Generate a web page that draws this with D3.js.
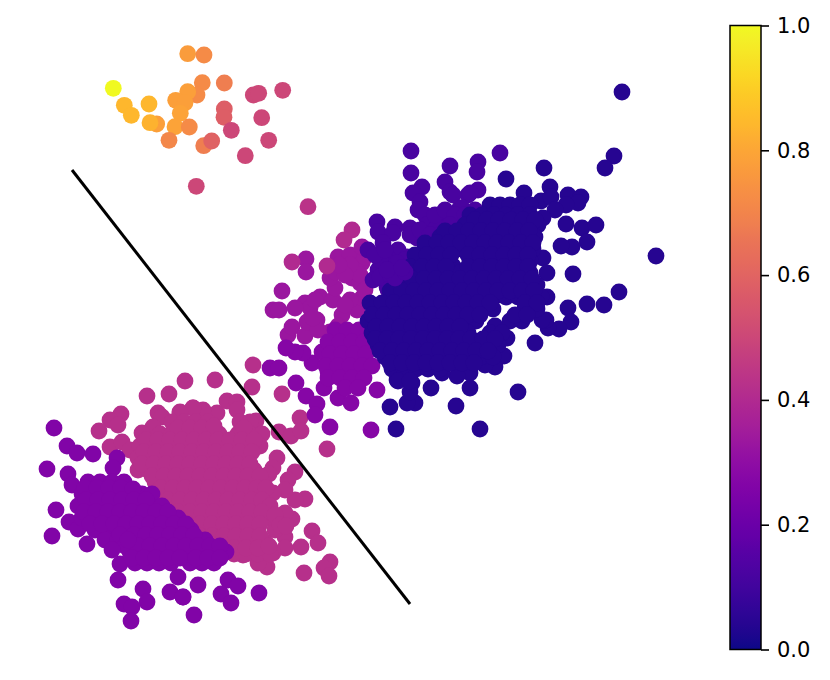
<!DOCTYPE html>
<html>
<head>
<meta charset="utf-8">
<title>projection scatter</title>
<script src="https://d3js.org/d3.v7.min.js"></script>
<style>
body { margin: 0; background: #fff; }
text { font-family: "DejaVu Sans", sans-serif; }
</style>
</head>
<body>
<div id="chart"></div>
<script>
// values, [x, y] in projection units
var pinkPoints = [[25.3,36.5],[25.2,38.7],[28.2,39.4],[18.5,38.1],[21.5,38],[16.9,39.4],[14.7,39.6],[12.1,41.4],[11,42],[9.9,43.1],[11.8,42.5],[15.8,41.3],[16.2,41.7],[15.3,42.7],[18,41.2],[19.3,40.8],
	[22.7,40.1],[23.7,40.2],[23.7,41],[21.7,41.3],[20.3,41],[19.3,40.8],[18,41.3],[25.6,42.1],[24.5,43.2],[27.9,43.2],[29.1,43.6],[30,41.8],[30.1,43.1],[32.7,44.9],[27.7,45.8],[27.3,46.8],[26.9,47.4],[29.5,47.2],[28.8,48],[30.5,49.9],[29.5,50],[29.2,51.9],[28.5,51.3],[28.5,49],[27.3,49.3],
	[31.2,53.1],[31.8,54.3],[30.1,54.7],[30.4,57.3],[33,56.2],[32.4,56.8],[32.9,57.6],[28.5,53.7],[28.5,54.8],[27.5,53],[27.3,55.3],[26.7,56.7],[25.8,56.3],[24.3,55.5],[23.3,55],
	[11,44.7],[12.2,44.2],[14.2,43.3],[13,45],[13.8,47],
	[17.2,42.2],[18.4,42.2],[19.6,42.2],[20.8,42.2],[24,42.2],[25,42.2],
	[16,43.4],[17.2,43.4],[19.5,43.4],[20.7,43.4],[21.9,43.4],[23.8,43.4],[25,43.4],[26.2,43.4],
	[14,44.6],[15.2,44.6],[16.4,44.6],[17.6,44.6],[18.8,44.6],[20,44.6],[21.2,44.6],[22.4,44.6],[23.6,44.6],[24.8,44.6],[26,44.6],
	[13.8,45.8],[15,45.8],[16.2,45.8],[17.4,45.8],[18.6,45.8],[19.8,45.8],[21,45.8],[22.2,45.8],[23.4,45.8],[24.6,45.8],
	[14.8,47],[16,47],[17.2,47],[18.4,47],[19.6,47],[20.8,47],[22,47],[23.2,47],[24.4,47],[25.4,47],
	[15.5,48.2],[16.7,48.2],[17.9,48.2],[19.1,48.2],[20.3,48.2],[21.5,48.2],[22.7,48.2],[23.9,48.2],[25.1,48.2],[26.3,48.2],
	[16.5,49.4],[17.7,49.4],[18.9,49.4],[20.1,49.4],[21.3,49.4],[22.5,49.4],[23.7,49.4],[24.9,49.4],[26.1,49.4],
	[17.2,50.6],[18.4,50.6],[19.6,50.6],[20.8,50.6],[22,50.6],[23.2,50.6],[24.4,50.6],[25.6,50.6],
	[18.4,51.8],[19.6,51.8],[20.8,51.8],[22,51.8],[23.2,51.8],[24.4,51.8],[25.6,51.8],[26.6,51.8],
	[19.4,53],[20.6,53],[21.8,53],[23,53],[24.2,53],[25.4,53],
	[20.5,54.2],[21.7,54.2],[22.9,54.2],[24.1,54.2],[25.3,54.2],[26.5,54.2],
	[22.2,55.4],[23.4,55.4],[24.6,55.4],[25.8,55.4],[27,55.4]];

var pinkInnerPoints = [[17.8,42.8],[19,42.8],[20.2,42.8],[21.4,42.6],[24.4,42.8],
	[14.6,44],[15.8,44],[17,44],[18.2,44],[19.4,44],[20.6,44],[21.8,44],[23,44],[24.2,44],[25.4,44],
	[14.4,45.2],[15.6,45.2],[16.8,45.2],[18,45.2],[19.2,45.2],[20.4,45.2],[21.6,45.2],[22.8,45.2],[24,45.2],[25.2,45.2],
	[14.2,46.4],[15.4,46.4],[16.6,46.4],[17.8,46.4],[19,46.4],[20.2,46.4],[21.4,46.4],[22.6,46.4],[23.8,46.4],[25,46.4],
	[15.2,47.6],[16.4,47.6],[17.6,47.6],[18.8,47.6],[20,47.6],[21.2,47.6],[22.4,47.6],[23.6,47.6],[24.8,47.6],[26,47.6],
	[16.1,48.8],[17.3,48.8],[18.5,48.8],[19.7,48.8],[20.9,48.8],[22.1,48.8],[23.3,48.8],[24.5,48.8],[25.7,48.8],[26.6,48.8],
	[16.8,50],[18,50],[19.2,50],[20.4,50],[21.6,50],[22.8,50],[24,50],[25.2,50],[26.2,50],[27,50.6],
	[17.8,51.2],[19,51.2],[20.2,51.2],[21.4,51.2],[22.6,51.2],[23.8,51.2],[25,51.2],[26.2,51.2],[27.5,51.5],
	[18.8,52.4],[20,52.4],[21.2,52.4],[22.4,52.4],[23.6,52.4],[24.8,52.4],[26,52.4],[28,52.5],
	[20,53.6],[21.2,53.6],[22.4,53.6],[23.6,53.6],[24.8,53.6],[26,53.6],
	[21,54.8],[22.2,54.8],[23.4,54.8],[24.6,54.8],[25.8,54.8],[26.9,54.6],[28.6,52.6]];

var lowerPurplePoints = [[5.4,42.8],[6.7,44.6],[7.7,45.3],[9.3,45.4],[4.7,46.9],[6.8,47.4],[7.2,48.5],[5.6,51],[5.2,53.6],[6.9,52.2],[7.8,52.9],[8.7,54.4],[11.1,54.2],[12,56.4],[11.8,58],[14.3,58.9],[14.7,60.2],[12.4,60.4],[13.2,60.7],[13.1,62.1],[17,59.2],[17.8,57.7],[18.3,59.7],[19.4,61.5],[11.7,45.8],[11.3,46.8],
	[22.8,58],[23.8,58.6],[22.1,59.4],[23.1,60.3],[25.9,59.3],[18.3,59.7],[19.8,58.5],
	[8.8,48.2],[10,48.2],[11.2,48.2],[12.4,48.2],
	[8.2,49.4],[9.4,49.4],[10.6,49.4],[11.8,49.4],[13,49.4],[14.2,49.4],[15.2,49.4],
	[7.8,50.6],[9,50.6],[10.2,50.6],[11.4,50.6],[12.6,50.6],[13.8,50.6],[15,50.6],[16.2,50.6],
	[8.2,51.8],[9.4,51.8],[10.6,51.8],[11.8,51.8],[13,51.8],[14.2,51.8],[15.4,51.8],[16.6,51.8],[17.8,51.8],
	[9.5,53],[10.7,53],[11.9,53],[13.1,53],[14.3,53],[15.5,53],[16.7,53],[17.9,53],[19.1,53],
	[10.5,54],[11.8,54],[13.2,54],[14.5,54],[15.7,54],[16.9,54],[18.1,54],[19.3,54],[20.5,54],
	[13,55.2],[14.2,55.2],[15.4,55.2],[16.6,55.2],[17.8,55.2],[19,55.2],[20.2,55.2],[21.4,55.2],[22.6,55.2],
	[13.5,56.3],[14.7,56.3],[15.9,56.3],[17.1,56.3],[19,56.3],[20.2,56.3],[21.4,56.3],
	[8.5,48.8],[9.7,48.8],[10.9,48.8],[12.1,48.8],[13.3,48.9],
	[8.6,50],[9.8,50],[11,50],[12.2,50],[13.4,50],[14.6,50],
	[8.4,51.2],[9.6,51.2],[10.8,51.2],[12,51.2],[13.2,51.2],[14.4,51.2],[15.6,51.2],[16.8,51.2],
	[9,52.4],[10.2,52.4],[11.4,52.4],[12.6,52.4],[13.8,52.4],[15,52.4],[16.2,52.4],[17.4,52.4],[18.6,52.4],
	[12,53.5],[13.4,53.5],[14.6,53.5],[15.8,53.5],[17,53.5],[18.2,53.5],[19.4,53.5],
	[12.5,54.6],[13.8,54.6],[15,54.6],[16.2,54.6],[17.4,54.6],[18.6,54.6],[19.8,54.6],[21,54.6],[22,54.6],
	[13.2,55.8],[14.4,55.8],[15.6,55.8],[16.8,55.8],[18,55.8],[19.6,55.8],[20.8,55.8],[22,55.8],[12.8,54],[11.2,55]];

var magentaPoints = [[28.8,33.5],[29.2,32.7],[30.5,33.6],[28.2,29.1],[27.3,31],[27.9,31],[30.7,32.2],[31.7,32],[33,33.2],[30.5,30.3],[32,29.7],[33.3,30],[34.2,31.5],[35.7,31],[36.2,29.8],[35,30],[33.5,28.8],[33,27.8],[33.5,27.2],[33.8,25.7],[35,25.5],[35.2,27.8],[36,28.3],[36.2,26.3],[36.5,25.7],[36.2,24.7],[30.6,25.9],[30.6,27.2],
	[31,30.8],[31.5,30],[34.5,30.5],[31.8,33],[36,27.5],[35,26.5],[34.5,27.5],[33.9,26.5],[36.5,29],[31.3,31.8],[33.8,32.6],[29.5,30.8]];

var redPurplePoints = [[35.2,23],[34.4,24],[29.2,26.2],[32.7,26.6]];

var midPurplePoints = [[33,42.7],[37.1,43],[37.7,39],[33.8,39.8],[35.1,40.3],[32.4,38.8],[32.8,37.2],[31.2,36.3],[32.2,35.2],[30.3,35.3],[29.5,35.2],[28.6,34.8],[27,36.8],[27.9,36.8],[29.6,38.3],[30.6,39.6],[31.7,40.4],[31.5,41.5],
	[33.5,33],[34.7,33],[35.9,33],[32.8,34.2],[34,34.2],[35.2,34.2],[36.4,34.2],[33,35.4],[34.2,35.4],[35.4,35.4],[36.6,35.4],[32.6,36.6],[33.8,36.6],[35,36.6],[36.2,36.6],[37.2,36.6],[32.8,37.8],[34,37.8],[35.2,37.8],[36.4,37.8],[34.5,38.8],[35.8,38.8]];

var indigoPoints = [[41.1,15.1],[41.1,17.3],[45,16.6],[42.2,18.7],[41.3,19.3],[44.5,18.2],[45,19.2],[42,20.2],[41.8,21],[42.5,21.5],[37.7,22.2],[37.8,23.2],[39.5,22.7],[39.3,23.3],[41,22.8],[41.7,23.8],[42.7,22.5],[43.8,22.5],[44.7,22],[44.7,22.7],[36.8,25],[38.3,24.3],[39.8,25],[40.7,25.7],[37.8,27],[37.3,28],[38.7,28.7],[42.8,25.3],[46,20.8],[46.8,19.5],[38,27.7],
	[47.8,16.2],[47.7,17.2],[50,15.3],[45.3,19.5],[47.8,19],[47,19.3],[46.2,20.8],[43.7,22.7],
	[39,26],[40.5,26],[38,26],[39,27.5],[41,27],[37.5,25.5],[38.5,25],[40,28.5],[38.8,29],
	[43.5,21.5],[44.5,21],[45.5,21.5],[46.5,21.5],[45,23],[46,23],[47.5,21],[41,23.5],[42,23],[43,23.5],[44,23.5],[45,22.5]];

var bluePoints = [[62.2,9.2],[61.4,15.6],[60.5,16.8],[54.4,16.8],[50.6,17.9],[55,18.7],[52.4,19.3],[54.1,20.1],[55.1,19.7],[56.8,19.5],[58.1,19.7],[57.8,20.3],[56.6,20.5],[55.5,21],[54.3,21.8],[56.6,22.4],[58.2,22.8],[59.6,22.5],[58.7,24.2],[57.2,24.7],[56.1,24.6],[54.3,25.8],[65.6,25.6],[57.3,27.4],[54.7,27.3],[54.7,29.7],[61.9,29.2],[60.4,30.5],[58.7,30.4],[56.8,30.8],[57.1,32.2],[55.9,32.9],[54.8,32.8],[54.6,32],[54.2,32],[53.5,34.3],[50.7,33.8],[50.4,35.6],[49.5,36.7],[48.5,36.5],[47,37.3],[45.7,37.6],[44.2,37.3],[47,38.8],[43.1,38.8],[51.8,39.2],[45.6,40.6],[48,42.9],[41.5,40.3],[40.7,40.3],[39.6,42.9],[41.2,38.3],[41,39.2],[39.7,38],[39,40.7],
	[49,20.5],[50,20.5],[51,20.5],[52,20.5],[53,20.5],
	[47,21.5],[48.2,21.5],[49.4,21.5],[50.6,21.5],[51.8,21.5],[53,21.5],
	[46.5,22.5],[47.8,22.5],[49,22.5],[50.2,22.5],[51.4,22.5],[52.6,22.5],[53.8,22.5],
	[44,23.7],[45.2,23.7],[46.4,23.7],[47.6,23.7],[48.8,23.7],[50,23.7],[51.2,23.7],[52.4,23.7],[53.5,23.7],
	[42.5,24.9],[43.7,24.9],[44.9,24.9],[46.1,24.9],[47.3,24.9],[48.5,24.9],[49.7,24.9],[50.9,24.9],[52.1,24.9],[53.3,24.9],
	[42,26.1],[43.2,26.1],[44.4,26.1],[45.3,26.6],[47,26.1],[48.2,26.1],[49.4,26.1],[50.6,26.1],[51.8,26.1],[53,26.1],
	[41.2,27.3],[42.4,27.3],[43.6,27.3],[44.8,27.3],[46,27.3],[47.2,27.3],[48.4,27.3],[49.6,27.3],[50.8,27.3],[52,27.3],[53,27.3],
	[40.5,28.5],[41.7,28.5],[42.9,28.5],[44.1,28.5],[45.3,28.5],[46.5,28.5],[47.7,28.5],[48.9,28.5],[50.1,28.5],[51.3,28.5],[52.5,28.5],[53.7,28.5],
	[39.8,29.7],[41,29.7],[42.2,29.7],[43.4,29.7],[44.6,29.7],[45.8,29.7],[47,29.7],[48.2,29.7],[49.4,29.7],[50.6,29.7],[51.8,29.7],[53,29.7],[54.1,29.7],
	[37.5,30.9],[38.5,30.9],[39.7,30.9],[40.9,30.9],[42.1,30.9],[43.3,30.9],[44.5,30.9],[45.7,30.9],[46.9,30.9],[48.1,30.9],[49.3,30.9],[52.5,30.9],[53.7,30.9],
	[36.8,32.1],[38,32.1],[39.2,32.1],[40.4,32.1],[41.6,32.1],[42.8,32.1],[44,32.1],[45.2,32.1],[46.4,32.1],[47.6,32.1],[49.5,32.6],[51,32.1],[52.2,32.1],
	[37.2,33.3],[38.4,33.3],[39.6,33.3],[40.8,33.3],[42,33.3],[43.2,33.3],[44.4,33.3],[45.6,33.3],[46.8,33.3],[49,33.3],[50.2,33.3],
	[37.8,34.5],[39,34.5],[40.2,34.5],[41.4,34.5],[42.6,34.5],[43.8,34.5],[45,34.5],[46.2,34.5],[47.4,34.5],[48.6,34.5],[49.8,34.5],
	[38.5,35.7],[39.7,35.7],[40.9,35.7],[42.1,35.7],[43.3,35.7],[44.5,35.7],[45.7,35.7],[46.9,35.7],[48.1,35.7],[49.3,35.7],
	[39.2,36.9],[40.4,36.9],[41.6,36.9],[42.8,36.9],[44,36.9],[39.8,38.1],[41,38.1],
	[47.5,22],[48.7,22],[49.9,22],[51.1,22],[52.3,22],[53.5,22],
	[44.5,23.1],[45.7,23.1],[46.9,23.1],[48.1,23.1],[49.3,23.1],[50.5,23.1],[51.7,23.1],[52.9,23.1],
	[42.5,24.3],[43.7,24.3],[44.9,24.3],[46.1,24.3],[47.3,24.3],[48.5,24.3],[49.7,24.3],[50.9,24.3],[52.1,24.3],[53.3,24.3],
	[41.5,25.5],[42.7,25.5],[43.9,25.5],[45.1,25.5],[46.8,25.5],[48,25.5],[49.2,25.5],[50.4,25.5],[51.6,25.5],[52.8,25.5],
	[41,26.7],[42.2,26.7],[43.4,26.7],[44.6,26.7],[46.8,26.7],[48,26.7],[49.2,26.7],[50.4,26.7],[51.6,26.7],[52.8,26.7],
	[40,27.9],[41.2,27.9],[42.4,27.9],[43.6,27.9],[44.8,27.9],[46,27.9],[47.2,27.9],[48.4,27.9],[49.6,27.9],[50.8,27.9],[52,27.9],[53.2,27.9],
	[39,29.1],[40.2,29.1],[41.4,29.1],[42.6,29.1],[43.8,29.1],[45,29.1],[46.2,29.1],[47.4,29.1],[48.6,29.1],[49.8,29.1],[51,29.1],[52.2,29.1],[53.4,29.1],
	[37,30.3],[38.2,30.3],[39.4,30.3],[40.6,30.3],[41.8,30.3],[43,30.3],[44.2,30.3],[45.4,30.3],[46.6,30.3],[47.8,30.3],[49,30.3],[52.5,30.3],[53.7,30.3],
	[37.2,31.5],[38.4,31.5],[39.6,31.5],[40.8,31.5],[42,31.5],[43.2,31.5],[44.4,31.5],[45.6,31.5],[46.8,31.5],[48,31.5],[51.5,31.5],[52.7,31.5],
	[37.6,32.7],[38.8,32.7],[40,32.7],[41.2,32.7],[42.4,32.7],[43.6,32.7],[44.8,32.7],[46,32.7],
	[37.5,33.9],[38.7,33.9],[39.9,33.9],[41.1,33.9],[42.3,33.9],[43.5,33.9],[44.7,33.9],[45.9,33.9],[47.1,33.9],[48.3,33.9],[49.5,33.9],
	[38,35.1],[39.2,35.1],[40.4,35.1],[41.6,35.1],[42.8,35.1],[44,35.1],[45.2,35.1],[46.4,35.1],[47.6,35.1],[48.8,35.1],
	[39,36.3],[40.2,36.3],[41.4,36.3],[42.6,36.3],[43.8,36.3],[45,36.3],[46.2,36.3],[47.4,36.3]];

var indigoOverPoints = [[39.5,27.8],[40.5,27.2],[39.7,26.3],[38.7,27],[40.2,26.8]];

var topPoints = [[11.33,8.83],[12.43,10.53],[13.13,11.53],[14.9,10.4],[15.67,12.4],[15,12.27],[18.77,5.37],[20.4,5.5],[20.23,8.27],[22.43,8.3],[19.7,9.5],[18.77,9.17],[17.57,10.03],[18.5,10.27],[18.03,11.33],[17.5,12.67],[18.93,12.7],[16.9,14.03],[20.37,14.57],[21.17,14.1],[22.43,10.9],[22.4,11.73],[23.13,13.03],[25.33,9.5],[25.87,9.33],[28.27,9.03],[26.17,11.77],[26.87,14.03],[24.53,15.57],[19.63,18.63],[30.8,20.67]];
var topValues = [1,0.84,0.84,0.84,0.78,0.83,0.77,0.72,0.72,0.68,0.72,0.78,0.78,0.78,0.79,0.79,0.72,0.71,0.68,0.59,0.58,0.58,0.5,0.5,0.5,0.5,0.5,0.5,0.5,0.5,0.43];

var pinkValue = 0.42;
var lowerPurpleValue = 0.26;
var magentaValue = 0.33;
var redPurpleValue = 0.4;
var midPurpleValue = 0.27;
var indigoValue = 0.12;
var blueValue = 0.04;

var boundaryLine = [[7.2,17],[41,60.4]];
var colorTicks = [0,0.2,0.4,0.6,0.8,1];

var width = 830, height = 680;
var xScale = d3.scaleLinear().domain([0,83]).range([0,width]);
var yScale = d3.scaleLinear().domain([0,68]).range([0,height]);
var colorScale = d3.scaleSequential(d3.interpolatePlasma).domain([0,1]);

var svg = d3.select("#chart")
	.append("svg")
	.attr("width", width)
	.attr("height", height);

function drawPoints(points, value){
	svg.append("g")
		.selectAll("circle")
		.data(points)
		.enter()
		.append("circle")
		.attr("cx", function(d){ return xScale(d[0]); })
		.attr("cy", function(d){ return yScale(d[1]); })
		.attr("r", 8.4)
		.attr("fill", colorScale(value));
}

// later groups sit on top, same as the reference
drawPoints(pinkPoints, pinkValue);
drawPoints(pinkInnerPoints, pinkValue);
drawPoints(lowerPurplePoints, lowerPurpleValue);
drawPoints(magentaPoints, magentaValue);
drawPoints(redPurplePoints, redPurpleValue);
drawPoints(midPurplePoints, midPurpleValue);
drawPoints(indigoPoints, indigoValue);
drawPoints(bluePoints, blueValue);
drawPoints(indigoOverPoints, indigoValue);

svg.append("g")
	.selectAll("circle")
	.data(topPoints)
	.enter()
	.append("circle")
	.attr("cx", function(d){ return xScale(d[0]); })
	.attr("cy", function(d){ return yScale(d[1]); })
	.attr("r", 8.4)
	.attr("fill", function(d, i){ return colorScale(topValues[i]); });

var lineGenerator = d3.line()
	.x(function(d){ return xScale(d[0]); })
	.y(function(d){ return yScale(d[1]); });

svg.append("path")
	.attr("d", lineGenerator(boundaryLine))
	.style("stroke", "#000")
	.style("stroke-width", 3)
	.style("fill", "none");

// colorbar
var barX = 730, barWidth = 31, barTop = 25.5, barBottom = 649.5;
var barScale = d3.scaleLinear().domain([0,1]).range([barBottom,barTop]);

var gradient = svg.append("defs").append("linearGradient")
	.attr("id", "plasma")
	.attr("x1", 0).attr("y1", 1)
	.attr("x2", 0).attr("y2", 0);

gradient.selectAll("stop")
	.data(d3.range(0,1.001,0.02))
	.enter()
	.append("stop")
	.attr("offset", function(d){ return d; })
	.attr("stop-color", function(d){ return colorScale(d); });

svg.append("rect")
	.attr("x", barX)
	.attr("y", barTop)
	.attr("width", barWidth)
	.attr("height", barBottom - barTop)
	.attr("fill", "url(#plasma)")
	.attr("stroke", "#000")
	.attr("stroke-width", 1.5);

var barAxis = d3.axisRight(barScale)
	.tickValues(colorTicks)
	.tickFormat(d3.format(".1f"))
	.tickSize(8)
	.tickPadding(8);

var axisG = svg.append("g")
	.attr("transform", "translate(" + (barX + barWidth) + ",0)")
	.call(barAxis);

axisG.select(".domain").remove();
axisG.selectAll("line").style("stroke", "#000").style("stroke-width", 1.6);
axisG.selectAll("text")
	.style("font-family", "'DejaVu Sans', sans-serif")
	.style("font-size", "21px")
	.style("fill", "#000");
</script>
</body>
</html>
